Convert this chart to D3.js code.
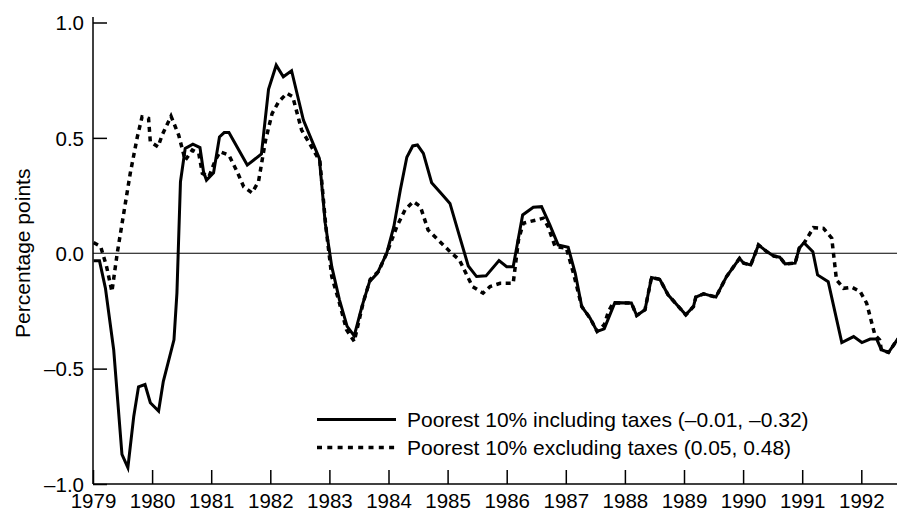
<!DOCTYPE html>
<html>
<head>
<meta charset="utf-8">
<script src="https://cdn.jsdelivr.net/npm/d3@7"></script>
<style>
  html, body { margin: 0; padding: 0; background: #fff; }
  svg { display: block; }
  text { font-family: "Liberation Sans", Arial, Helvetica, sans-serif; fill: #000; }
</style>
</head>
<body>
<svg id="chart" width="897" height="511"></svg>
<script>
// ---- Data (decimal years, percentage points) ----
const includingDates = [
  1979.01, 1979.11, 1979.21, 1979.35, 1979.49, 1979.59, 1979.69, 1979.77, 1979.88, 1979.97,
  1980.11, 1980.19, 1980.37, 1980.42, 1980.48, 1980.56, 1980.69, 1980.81, 1980.87, 1980.92,
  1981.04, 1981.14, 1981.22, 1981.30, 1981.61, 1981.85, 1981.97, 1982.10, 1982.22, 1982.36,
  1982.56, 1982.70, 1982.83, 1982.93, 1983.04, 1983.17, 1983.30, 1983.42, 1983.55, 1983.68,
  1983.81, 1983.97, 1984.09, 1984.20, 1984.31, 1984.41, 1984.49, 1984.59, 1984.73, 1984.90,
  1985.04, 1985.20, 1985.35, 1985.49, 1985.65, 1985.87, 1986.00, 1986.11, 1986.27, 1986.45,
  1986.59, 1986.73, 1986.87, 1987.04, 1987.16, 1987.27, 1987.41, 1987.53, 1987.65, 1987.83,
  1988.11, 1988.20, 1988.34, 1988.45, 1988.59, 1988.73, 1989.03, 1989.16, 1989.20, 1989.33,
  1989.54, 1989.72, 1989.94, 1990.01, 1990.13, 1990.26, 1990.40, 1990.52, 1990.62, 1990.71,
  1990.88, 1990.95, 1991.03, 1991.18, 1991.26, 1991.44, 1991.67, 1991.87, 1992.01, 1992.15,
  1992.26, 1992.34, 1992.46, 1992.62
];
const includingValues = [
  -0.033, -0.033, -0.151, -0.418, -0.872, -0.929, -0.706, -0.579, -0.569, -0.648,
  -0.684, -0.555, -0.375, -0.173, 0.310, 0.454, 0.473, 0.458, 0.353, 0.317,
  0.349, 0.504, 0.523, 0.523, 0.382, 0.430, 0.710, 0.815, 0.765, 0.791,
  0.577, 0.490, 0.411, 0.130, -0.058, -0.202, -0.317, -0.358, -0.231, -0.123,
  -0.087, 0.000, 0.115, 0.274, 0.416, 0.465, 0.469, 0.433, 0.306, 0.257,
  0.216, 0.075, -0.055, -0.101, -0.098, -0.032, -0.058, -0.058, 0.166, 0.199,
  0.202, 0.123, 0.036, 0.026, -0.087, -0.231, -0.281, -0.339, -0.328, -0.214,
  -0.216, -0.270, -0.245, -0.105, -0.113, -0.180, -0.267, -0.231, -0.190, -0.176,
  -0.190, -0.101, -0.022, -0.043, -0.051, 0.036, 0.007, -0.012, -0.017, -0.046,
  -0.043, 0.022, 0.046, 0.007, -0.094, -0.123, -0.387, -0.361, -0.387, -0.372,
  -0.372, -0.418, -0.430, -0.370
];

const excludingDates = [
  1979.01, 1979.13, 1979.23, 1979.32, 1979.41, 1979.52, 1979.63, 1979.75, 1979.83, 1979.94,
  1979.97, 1980.10, 1980.17, 1980.32, 1980.45, 1980.56, 1980.68, 1980.79, 1980.85, 1980.96,
  1981.07, 1981.15, 1981.30, 1981.44, 1981.55, 1981.69, 1981.80, 1981.92, 1982.03, 1982.14,
  1982.28, 1982.38, 1982.53, 1982.73, 1982.84, 1982.94, 1983.04, 1983.17, 1983.29, 1983.42,
  1983.57, 1983.69, 1983.83, 1983.97, 1984.14, 1984.28, 1984.42, 1984.54, 1984.67, 1984.84,
  1985.04, 1985.20, 1985.42, 1985.60, 1985.72, 1985.89, 1986.11, 1986.20, 1986.28, 1986.62,
  1986.70, 1986.82, 1987.01, 1987.13, 1987.27, 1987.41, 1987.53, 1987.65, 1987.72, 1987.80,
  1988.11, 1988.20, 1988.34, 1988.45, 1988.59, 1988.73, 1989.03, 1989.16, 1989.20, 1989.33,
  1989.54, 1989.72, 1989.94, 1990.01, 1990.13, 1990.26, 1990.40, 1990.52, 1990.62, 1990.71,
  1990.88, 1990.95, 1991.03, 1991.19, 1991.36, 1991.50, 1991.58, 1991.70, 1991.84, 1991.98,
  1992.09, 1992.23, 1992.31, 1992.34, 1992.46, 1992.62
];
const excludingValues = [
  0.046, 0.029, -0.058, -0.166, 0.000, 0.173, 0.346, 0.504, 0.591, 0.584,
  0.483, 0.461, 0.512, 0.594, 0.512, 0.403, 0.447, 0.432, 0.346, 0.331,
  0.403, 0.440, 0.425, 0.353, 0.288, 0.262, 0.310, 0.490, 0.605, 0.656,
  0.693, 0.678, 0.534, 0.447, 0.397, 0.115, -0.101, -0.216, -0.332, -0.382,
  -0.216, -0.113, -0.079, 0.000, 0.115, 0.188, 0.224, 0.202, 0.101, 0.058,
  0.007, -0.029, -0.144, -0.173, -0.144, -0.130, -0.130, 0.058, 0.130, 0.152,
  0.115, 0.029, 0.022, -0.087, -0.231, -0.281, -0.339, -0.310, -0.253, -0.216,
  -0.216, -0.270, -0.245, -0.105, -0.113, -0.180, -0.267, -0.231, -0.190, -0.176,
  -0.190, -0.101, -0.022, -0.043, -0.051, 0.036, 0.007, -0.012, -0.017, -0.046,
  -0.043, 0.022, 0.043, 0.111, 0.108, 0.065, -0.115, -0.152, -0.147, -0.166,
  -0.216, -0.354, -0.375, -0.418, -0.430, -0.370
];

const xTicks = [1979, 1980, 1981, 1982, 1983, 1984, 1985, 1986, 1987, 1988, 1989, 1990, 1991, 1992];
const yTicks = [-1.0, -0.5, 0.0, 0.5, 1.0];
const yTickLabels = ["\u20131.0", "\u20130.5", "0.0", "0.5", "1.0"];
const seriesNames = [
  "Poorest 10% including taxes (\u20130.01, \u20130.32)",
  "Poorest 10% excluding taxes (0.05, 0.48)"
];
const yAxisTitle = "Percentage points";

// ---- Layout ----
const W = 897, H = 511;
const mLeft = 93, mRight = 897, mTop = 17, mBottom = 484;

const svg = d3.select("#chart");

const x = d3.scaleLinear().domain([1979, 1993]).range([mLeft, mLeft + 14 * 59.1]);
const y = d3.scaleLinear().domain([-1, 1]).range([mBottom, 22.5]);

svg.append("defs").append("clipPath").attr("id", "plotclip")
  .append("rect").attr("x", mLeft).attr("y", 0).attr("width", mRight - mLeft).attr("height", H);

// zero line
svg.append("line")
  .attr("x1", mLeft).attr("x2", mRight)
  .attr("y1", y(0)).attr("y2", y(0))
  .attr("stroke", "#000").attr("stroke-width", 1.2);

// Y axis
const yAxis = d3.axisRight(y).tickValues(yTicks).tickSize(14)
  .tickFormat((d, i) => yTickLabels[i]);
const gy = svg.append("g").attr("transform", `translate(${mLeft},0)`).call(yAxis);
gy.select(".domain").remove();
gy.selectAll(".tick line").attr("stroke", "#000").attr("stroke-width", 1.5);
gy.selectAll(".tick text")
  .attr("x", -9).attr("text-anchor", "end")
  .attr("dy", "0.35em")
  .style("font-size", "20.5px")
  .style("font-family", "'Liberation Sans', Arial, sans-serif");
gy.selectAll(".tick").filter(d => d === 0).select("line").remove();
svg.append("line").attr("x1", mLeft).attr("x2", mLeft).attr("y1", mTop).attr("y2", mBottom)
  .attr("stroke", "#000").attr("stroke-width", 1.5);

// X axis
const xAxis = d3.axisTop(x).tickValues(xTicks).tickSize(14).tickFormat(d3.format("d"));
const gx = svg.append("g").attr("transform", `translate(0,${mBottom})`).call(xAxis);
gx.select(".domain").remove();
gx.selectAll(".tick line").attr("stroke", "#000").attr("stroke-width", 1.5);
gx.selectAll(".tick text")
  .attr("y", 9).attr("dy", "0.71em")
  .attr("text-anchor", "middle")
  .style("font-size", "20.5px")
  .style("font-family", "'Liberation Sans', Arial, sans-serif");
svg.append("line").attr("x1", mLeft).attr("x2", mRight).attr("y1", mBottom).attr("y2", mBottom)
  .attr("stroke", "#000").attr("stroke-width", 1.5);

// Y axis title
svg.append("text")
  .attr("transform", `translate(23,${y(0)}) rotate(-90)`)
  .attr("text-anchor", "middle")
  .attr("dy", "0.35em")
  .style("font-size", "21px")
  .text(yAxisTitle);

// Lines
const lineGen = d3.line().x(d => x(d[0])).y(d => y(d[1]));
const incl = includingDates.map((d, i) => [d, includingValues[i]]);
const excl = excludingDates.map((d, i) => [d, excludingValues[i]]);

const plot = svg.append("g").attr("clip-path", "url(#plotclip)");
plot.append("path").datum(excl)
  .attr("d", lineGen).attr("fill", "none")
  .attr("stroke", "#000").attr("stroke-width", 3.5)
  .attr("stroke-dasharray", "5,4.5")
  .attr("stroke-linejoin", "miter");
plot.append("path").datum(incl)
  .attr("d", lineGen).attr("fill", "none")
  .attr("stroke", "#000").attr("stroke-width", 3)
  .attr("stroke-linejoin", "miter");

// Legend
const legend = svg.append("g");
const legRows = [
  { name: seriesNames[0], dash: null, w: 3, yy: 419.5 },
  { name: seriesNames[1], dash: "5,5.3", w: 3.5, yy: 447.5 }
];
legRows.forEach(r => {
  legend.append("line")
    .attr("x1", 317).attr("x2", 396).attr("y1", r.yy).attr("y2", r.yy)
    .attr("stroke", "#000").attr("stroke-width", r.w)
    .attr("stroke-dasharray", r.dash);
  legend.append("text")
    .attr("x", 407).attr("y", r.yy).attr("dy", "0.36em")
    .style("font-size", "21px")
    .text(r.name);
});
</script>
</body>
</html>
